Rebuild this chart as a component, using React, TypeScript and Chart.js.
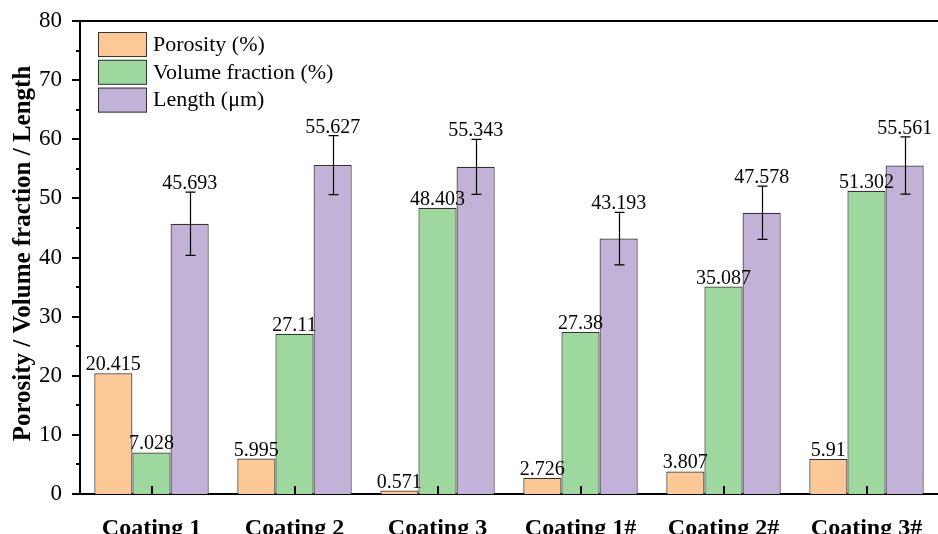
import React, { useEffect, useRef } from "react";
import { Chart, registerables } from "chart.js";

Chart.register(...registerables);

const categories = ["Coating 1", "Coating 2", "Coating 3", "Coating 1#", "Coating 2#", "Coating 3#"];
const porosity = [20.415, 5.995, 0.571, 2.726, 3.807, 5.91];
const volumeFraction = [7.028, 27.11, 48.403, 27.38, 35.087, 51.302];
const lengthVals = [45.693, 55.627, 55.343, 43.193, 47.578, 55.561];
const lengthErr = [5.35, 5.0, 4.65, 4.45, 4.5, 4.85];
const seriesNames = ["Porosity (%)", "Volume fraction (%)", "Length (\u03bcm)"];
const seriesColors = ["#FBC896", "#9ED89E", "#C2B2D7"];
const yTitle = "Porosity / Volume fraction / Length";

const SERIF = "'Liberation Serif', 'Times New Roman', serif";

const overlayPlugin = {
  id: "overlay",
  afterDraw(chart: any) {
    const ctx = chart.ctx;
    const area = chart.chartArea;
    const y = chart.scales.y;
    const x = chart.scales.x;
    ctx.save();
    // top border
    ctx.strokeStyle = "#000";
    ctx.lineWidth = 2;
    ctx.beginPath();
    ctx.moveTo(area.left - 1, area.top);
    ctx.lineTo(chart.width, area.top);
    ctx.stroke();
    // y ticks (major + minor, outward)
    for (let v = 0; v <= 80; v += 5) {
      const py = Math.round(y.getPixelForValue(v));
      const len = v % 10 === 0 ? 8 : 4;
      ctx.beginPath();
      ctx.moveTo(area.left, py);
      ctx.lineTo(area.left - len, py);
      ctx.stroke();
    }
    // x ticks (inward)
    for (let i = 0; i < categories.length; i++) {
      const px = Math.round(x.getPixelForValue(i));
      ctx.beginPath();
      ctx.moveTo(px, area.bottom);
      ctx.lineTo(px, area.bottom - 8);
      ctx.stroke();
    }
    // error bars on Length
    const meta = chart.getDatasetMeta(2);
    ctx.lineWidth = 1.2;
    meta.data.forEach((bar: any, i: number) => {
      const cx = Math.round(bar.x) + 0.5;
      const top = y.getPixelForValue(lengthVals[i] + lengthErr[i]);
      const bot = y.getPixelForValue(lengthVals[i] - lengthErr[i]);
      ctx.beginPath();
      ctx.moveTo(cx, top);
      ctx.lineTo(cx, bot);
      ctx.moveTo(cx - 5, top);
      ctx.lineTo(cx + 5, top);
      ctx.moveTo(cx - 5, bot);
      ctx.lineTo(cx + 5, bot);
      ctx.stroke();
    });
    // value labels
    ctx.fillStyle = "#000";
    ctx.font = `20px ${SERIF}`;
    ctx.textAlign = "center";
    ctx.textBaseline = "alphabetic";
    const all = [porosity, volumeFraction, lengthVals];
    all.forEach((arr, d) => {
      const m = chart.getDatasetMeta(d);
      m.data.forEach((bar: any, i: number) => {
        const topVal = d === 2 ? arr[i] + lengthErr[i] : arr[i];
        const py = y.getPixelForValue(topVal) - 3;
        ctx.fillText(String(arr[i]), bar.x, py);
      });
    });
    // legend
    const lx = 98;
    let ly = 32;
    ctx.font = `22px ${SERIF}`;
    ctx.textAlign = "left";
    ctx.textBaseline = "middle";
    for (let k = 0; k < seriesNames.length; k++) {
      ctx.fillStyle = seriesColors[k];
      ctx.fillRect(lx, ly, 49, 25);
      ctx.strokeStyle = "#333";
      ctx.lineWidth = 1;
      ctx.strokeRect(lx + 0.5, ly + 0.5, 48, 24);
      ctx.fillStyle = "#000";
      ctx.fillText(seriesNames[k], lx + 55, ly + 13);
      ly += 27.8;
    }
    // y title
    ctx.save();
    ctx.translate(24, (area.top + area.bottom) / 2 - 4);
    ctx.rotate(-Math.PI / 2);
    ctx.font = `bold 25px ${SERIF}`;
    ctx.textAlign = "center";
    ctx.textBaseline = "middle";
    ctx.fillText(yTitle, 0, 0);
    ctx.restore();
    ctx.restore();
  },
};

export default function App() {
  const ref = useRef<HTMLCanvasElement | null>(null);
  useEffect(() => {
    if (!ref.current) return;
    const mk = (i: number, data: number[]) => ({
      label: seriesNames[i],
      data,
      backgroundColor: seriesColors[i],
      borderColor: "#333",
      borderWidth: 1.2,
      categoryPercentage: 0.8,
      barPercentage: 1.0,
    });
    const chart = new Chart(ref.current, {
      type: "bar",
      data: {
        labels: categories,
        datasets: [mk(0, porosity), mk(1, volumeFraction), mk(2, lengthVals)],
      },
      options: {
        animation: false,
        responsive: false,
        maintainAspectRatio: false,
        layout: { padding: { top: 21, right: 0, left: 0, bottom: 0 } },
        plugins: { legend: { display: false }, tooltip: { enabled: false } },
        scales: {
          x: {
            grid: { display: false },
            border: { display: true, color: "#000", width: 2 },
            ticks: {
              color: "#000",
              padding: 12,
              font: { family: SERIF, size: 24, weight: "bold" },
            },
            afterFit: (s: any) => {
              s.height = 40;
              s.paddingLeft = 0;
              s.paddingRight = 0;
            },
          },
          y: {
            min: 0,
            max: 80,
            grid: { display: false },
            border: { display: true, color: "#000", width: 2 },
            ticks: {
              stepSize: 10,
              color: "#000",
              padding: 10,
              font: { family: SERIF, size: 23 },
            },
            afterFit: (s: any) => {
              s.width = 80;
              s.paddingTop = 0;
              s.paddingBottom = 0;
            },
          },
        },
      },
      plugins: [overlayPlugin],
    } as any);
    return () => chart.destroy();
  }, []);
  return (
    <div style={{ position: "absolute", left: 0, top: 0, width: 938, height: 534, background: "#fff" }}>
      <canvas ref={ref} width={938} height={534} style={{ width: 938, height: 534 }} />
    </div>
  );
}
